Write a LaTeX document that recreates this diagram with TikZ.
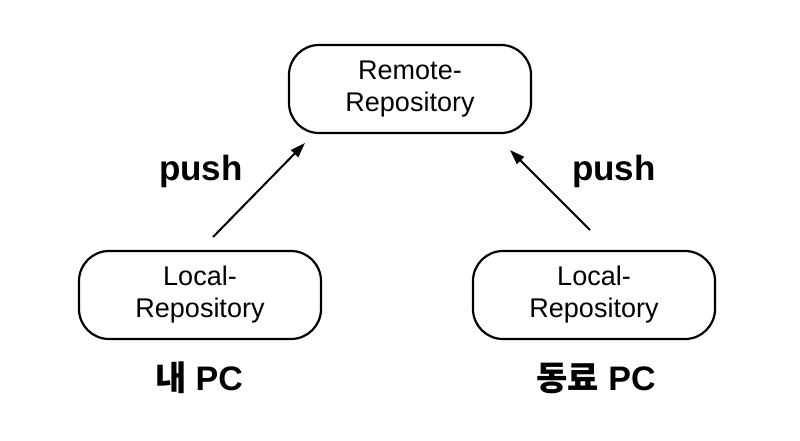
\documentclass[tikz,border=0pt]{standalone}
\usepackage{fontspec}
\setmainfont{Liberation Sans}
\newfontfamily\krfont{Noto Sans CJK KR}
\usetikzlibrary{arrows.meta}
\begin{document}
\begin{tikzpicture}[x=1pt,y=-1pt,
  repo/.style={draw=black,line width=2.2pt,rounded corners=30pt,minimum width=242pt,minimum height=88pt,align=center,inner sep=0pt,font=\fontsize{27}{32}\selectfont},
  lbl/.style={font=\bfseries\fontsize{35}{38}\selectfont,inner sep=0pt},
  pc/.style={font=\bfseries\fontsize{34}{38}\selectfont,inner sep=0pt},
  arr/.style={line width=2pt,-{Triangle[length=15pt,width=10pt]}}]
\useasboundingbox (0,0) rectangle (800,440);
\node[repo] (remote) at (410,89) {Remote-\\Repository};
\node[repo] (local1) at (200,295) {Local-\\Repository};
\node[repo] (local2) at (594,295) {Local-\\Repository};
\coordinate (a1s) at (213,237);
\coordinate (a1e) at (305,143);
\coordinate (a2s) at (590,230);
\coordinate (a2e) at (510,150);
\draw[arr] (a1s) -- (a1e);
\draw[arr] (a2s) -- (a2e);
\node[lbl] (push1) at (201,171) {push};
\node[lbl] (push2) at (614,171) {push};
\node[pc] (pc1) at (199,378) {{\krfont\bfseries 내} PC};
\node[pc] (pc2) at (596,378) {{\krfont\bfseries 동료} PC};
\end{tikzpicture}
\end{document}
